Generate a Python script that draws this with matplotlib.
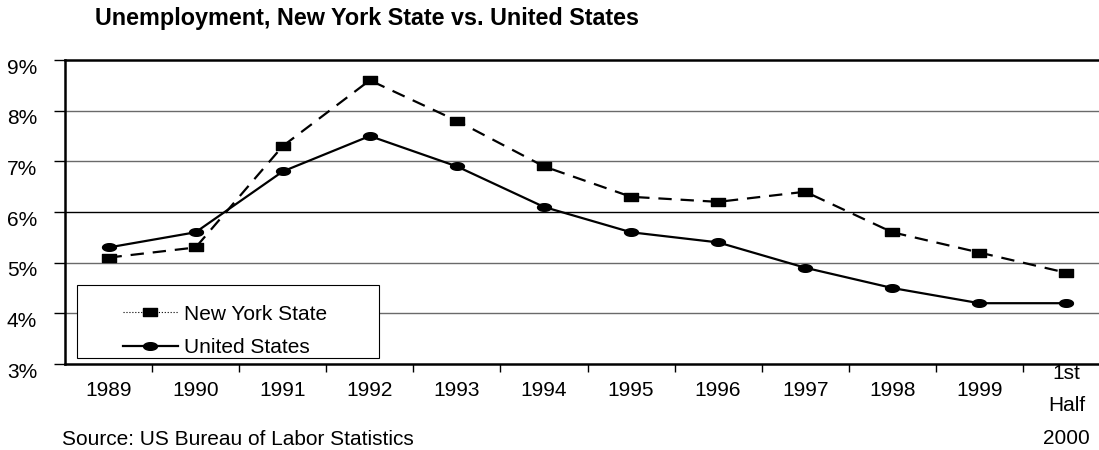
import matplotlib.pyplot as plt
import matplotlib.transforms as mtransforms
from matplotlib.lines import Line2D
from matplotlib.patches import Rectangle
from matplotlib.path import Path
import numpy as np

plt.rcParams['font.family'] = ['Liberation Sans', 'DejaVu Sans']

years = ['1989', '1990', '1991', '1992', '1993', '1994', '1995', '1996',
         '1997', '1998', '1999', '1st\nHalf\n2000']
ny_rate = [5.1, 5.3, 7.3, 8.6, 7.8, 6.9, 6.3, 6.2, 6.4, 5.6, 5.2, 4.8]
us_rate = [5.3, 5.6, 6.8, 7.5, 6.9, 6.1, 5.6, 5.4, 4.9, 4.5, 4.2, 4.2]
y_ticks = [3, 4, 5, 6, 7, 8, 9]

# flat markers like the old excel chart
rect = Path([(-1, -0.6), (1, -0.6), (1, 0.6), (-1, 0.6), (-1, -0.6)],
            [Path.MOVETO, Path.LINETO, Path.LINETO, Path.LINETO, Path.CLOSEPOLY])
t = np.linspace(0, 2 * np.pi, 40)
oval = Path(np.column_stack([np.cos(t), 0.55 * np.sin(t)]), closed=False)

fig = plt.figure(figsize=(10.99, 4.5), dpi=100)
ax = fig.add_axes([65 / 1099, 86 / 450, 1045 / 1099, 304 / 450])

x = np.arange(len(years))
ax.plot(x, ny_rate, color='black', lw=1.6, ls=(0, (6, 4)), marker=rect,
        markersize=10, zorder=3)
ax.plot(x, us_rate, color='black', lw=1.6, ls='-', marker=oval,
        markersize=10, zorder=3)

ax.set_xlim(-0.5, len(years) - 0.5)
ax.set_ylim(3, 9)

for v in y_ticks[1:-1]:
    ax.axhline(v, color='black' if v == 6 else '#6a6a6a', lw=1.0, zorder=1)

ax.set_yticks(y_ticks)
ax.set_yticklabels([f'{v}%' for v in y_ticks])
ax.tick_params(axis='y', length=8, width=1, pad=12, labelsize=15)
shift = mtransforms.ScaledTranslation(0, -0.06, fig.dpi_scale_trans)
for lbl in ax.get_yticklabels():
    lbl.set_transform(lbl.get_transform() + shift)

ax.set_xticks(x)
ax.set_xticklabels(years, linespacing=1.9)
ax.set_xticks(x[:-1] + 0.5, minor=True)
ax.tick_params(axis='x', which='major', length=0, pad=12, labelsize=15)
ax.tick_params(axis='x', which='minor', length=6, width=1)
up = mtransforms.ScaledTranslation(0, 0.17, fig.dpi_scale_trans)
last = ax.get_xticklabels()[-1]
last.set_transform(last.get_transform() + up)

for side in ['left', 'top', 'bottom']:
    ax.spines[side].set_linewidth(1.8)
ax.spines['right'].set_visible(False)

# legend box is wider than its content, so frame is drawn separately
ax.add_patch(Rectangle((12 / 1045, 6 / 304), 302 / 1045, 73 / 304, transform=ax.transAxes,
                       facecolor='white', edgecolor='black', lw=0.8, zorder=4))
handles = [Line2D([], [], color='black', lw=0.8, ls=':', marker=rect, markersize=10),
           Line2D([], [], color='black', lw=1.6, marker=oval, markersize=10)]
leg = ax.legend(handles, ['New York State', 'United States'], loc='center',
                bbox_to_anchor=(160 / 1045, 33 / 304), borderaxespad=0, fontsize=15,
                handlelength=2.64, handletextpad=0.3, labelspacing=0.7,
                borderpad=0.2, frameon=False)
leg.set_zorder(5)

fig.text(95 / 1099, 1 - 18 / 450, 'Unemployment, New York State vs. United States',
         fontsize=16.8, fontweight='bold', va='center', ha='left')
fig.text(62 / 1099, 1 / 450, 'Source: US Bureau of Labor Statistics',
         fontsize=15, va='bottom', ha='left')

fig.savefig('out.png', dpi=100)
